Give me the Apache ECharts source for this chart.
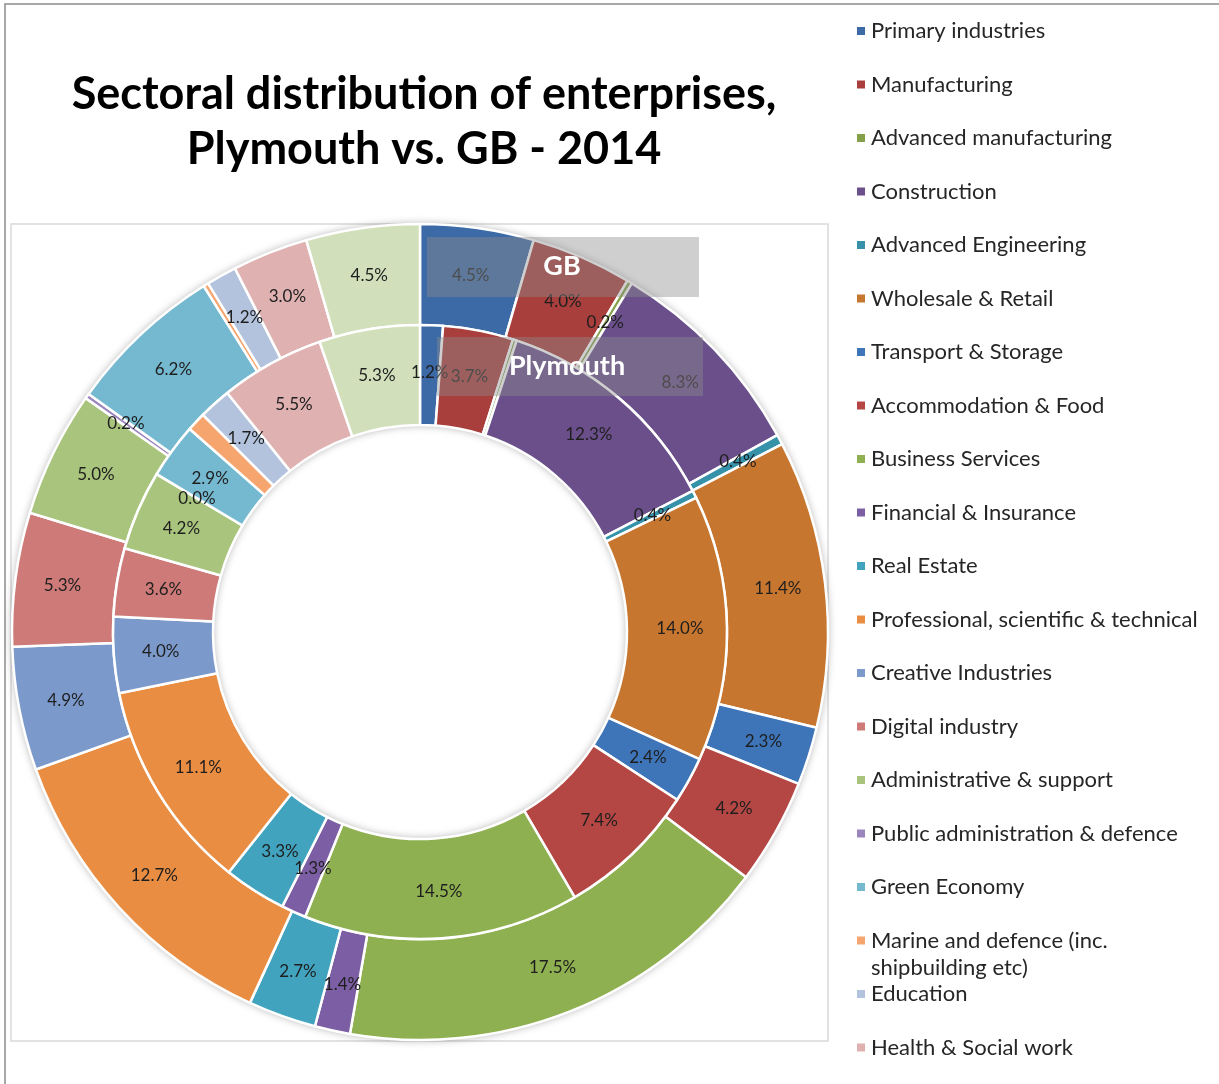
<!DOCTYPE html>
<html>
<head>
<meta charset="utf-8">
<title>Sectoral distribution of enterprises, Plymouth vs. GB - 2014</title>
<script src="https://cdn.jsdelivr.net/npm/echarts@6/dist/echarts.min.js"></script>
<style>
  html, body { margin: 0; padding: 0; background: #ffffff; }
  #chart { width: 1219px; height: 1084px; }
</style>
</head>
<body>
<div id="chart"></div>
<script>
// Sectors, in drawing order (clockwise from 12 o'clock)
const sectors = [
  'Primary industries',
  'Manufacturing',
  'Advanced manufacturing',
  'Construction',
  'Advanced Engineering',
  'Wholesale & Retail',
  'Transport & Storage',
  'Accommodation & Food',
  'Business Services',
  'Financial & Insurance',
  'Real Estate',
  'Professional, scientific & technical',
  'Creative Industries',
  'Digital industry',
  'Administrative & support',
  'Public administration & defence',
  'Green Economy',
  'Marine and defence (inc. shipbuilding etc)',
  'Education',
  'Health & Social work',
  'Other services'
];

// Share of enterprises (%), GB (outer ring)
const gbShare = [4.5, 4.0, 0.2, 8.3, 0.4, 11.4, 2.3, 4.2, 17.5, 1.4, 2.7, 12.7, 4.9, 5.3, 5.0, 0.2, 6.2, 0.2, 1.2, 3.0, 4.5];

// Share of enterprises (%), Plymouth (inner ring)
const plymouthShare = [1.2, 3.7, 0.2, 12.3, 0.4, 14.0, 2.4, 7.4, 14.5, 1.3, 3.3, 11.1, 4.0, 3.6, 4.2, 0.0, 2.9, 1.0, 1.7, 5.5, 5.3];

const sectorColors = [
  '#3c6aa6', '#a83f3c', '#84a04a', '#6a4f8a', '#3592a9',
  '#c7762f', '#3e74b8', '#b44744', '#8fb050', '#7b5ea3',
  '#42a3bf', '#e98d43', '#7b9acb', '#cd7a78', '#a9c47c',
  '#9a86bd', '#75b9d0', '#f6a56f', '#b3c3de', '#dfb1b1',
  '#d2dfbb'
];

const FONT = 'Lato, "Open Sans", sans-serif';
const CX = 420, CY = 632;

function ringData(values) {
  return sectors.map((name, i) => ({ name: name, value: values[i] }));
}

const sliceLabel = {
  show: true,
  position: 'inside',
  formatter: p => p.value.toFixed(1) + '%',
  color: '#1e1e1e',
  fontFamily: FONT,
  fontSize: 17
};

// the long marine entry wraps: first line in the legend row, the rest just below it
const marineName = sectors[17];
const marineFirstLine = 'Marine and defence (inc.';
const marineSecondLine = 'shipbuilding etc)';

const chart = echarts.init(document.getElementById('chart'), null, { renderer: 'canvas' });

chart.setOption({
  animation: false,
  color: sectorColors,
  title: {
    text: 'Sectoral distribution of enterprises,\nPlymouth vs. GB - 2014',
    left: 419,
    top: 62,
    textAlign: 'center',
    textStyle: {
      fontFamily: FONT,
      fontWeight: 'bold',
      fontSize: 45,
      lineHeight: 55,
      color: '#000000'
    }
  },
  legend: {
    orient: 'vertical',
    left: 850,
    top: 14,
    height: 1200,
    icon: 'rect',
    itemWidth: 10,
    itemHeight: 10,
    itemGap: 29.5,
    selectedMode: false,
    data: sectors.slice(0, 20),
    formatter: name => name === marineName ? marineFirstLine : name,
    textStyle: {
      fontFamily: FONT,
      fontSize: 22,
      lineHeight: 24,
      color: '#262626'
    }
  },
  graphic: [
    // chart frame and plot area outline
    { type: 'rect', z: -10, silent: true,
      shape: { x: 5, y: 4, width: 1400, height: 1400 },
      style: { fill: 'none', stroke: '#8c8c8c', lineWidth: 1.5 } },
    { type: 'rect', z: -10, silent: true,
      shape: { x: 11, y: 224, width: 817, height: 817 },
      style: { fill: 'none', stroke: '#d9d9d9', lineWidth: 1.5 } },
    // wrapped part of the marine legend entry
    { type: 'text', silent: true, x: 871, y: 968,
      style: { text: marineSecondLine, fill: '#262626', font: '22px ' + FONT,
               textAlign: 'left', textVerticalAlign: 'middle' } },
    // ring captions
    { type: 'rect', z: 100, silent: true,
      shape: { x: 427, y: 237, width: 272, height: 60 },
      style: { fill: 'rgba(140,140,140,0.42)' } },
    { type: 'text', z: 101, silent: true, x: 562, y: 266,
      style: { text: 'GB', fill: '#ffffff', font: 'bold 27px ' + FONT,
               textAlign: 'center', textVerticalAlign: 'middle' } },
    { type: 'rect', z: 100, silent: true,
      shape: { x: 437, y: 337, width: 266, height: 59 },
      style: { fill: 'rgba(140,140,140,0.42)' } },
    { type: 'text', z: 101, silent: true, x: 567, y: 366,
      style: { text: 'Plymouth', fill: '#ffffff', font: 'bold 27px ' + FONT,
               textAlign: 'center', textVerticalAlign: 'middle' } }
  ],
  series: [
    {
      // soft shadow under both rings
      type: 'pie',
      name: 'ring shadow',
      silent: true,
      z: 1,
      center: [CX, CY],
      radius: [207, 408],
      label: { show: false },
      labelLine: { show: false },
      itemStyle: { color: '#ffffff', shadowBlur: 8, shadowColor: 'rgba(0,0,0,0.35)' },
      data: [{ name: '', value: 1 }]
    },
    {
      type: 'pie',
      name: 'GB',
      z: 2,
      center: [CX, CY],
      radius: [307, 408],
      startAngle: 90,
      clockwise: true,
      avoidLabelOverlap: false,
      labelLine: { show: false },
      label: sliceLabel,
      itemStyle: { borderColor: '#ffffff', borderWidth: 2.5 },
      emphasis: { disabled: true },
      data: ringData(gbShare)
    },
    {
      type: 'pie',
      name: 'Plymouth',
      z: 2,
      center: [CX, CY],
      radius: [207, 307],
      startAngle: 90,
      clockwise: true,
      avoidLabelOverlap: false,
      labelLine: { show: false },
      label: sliceLabel,
      itemStyle: { borderColor: '#ffffff', borderWidth: 2.5 },
      emphasis: { disabled: true },
      data: ringData(plymouthShare)
    }
  ]
});
</script>
</body>
</html>
